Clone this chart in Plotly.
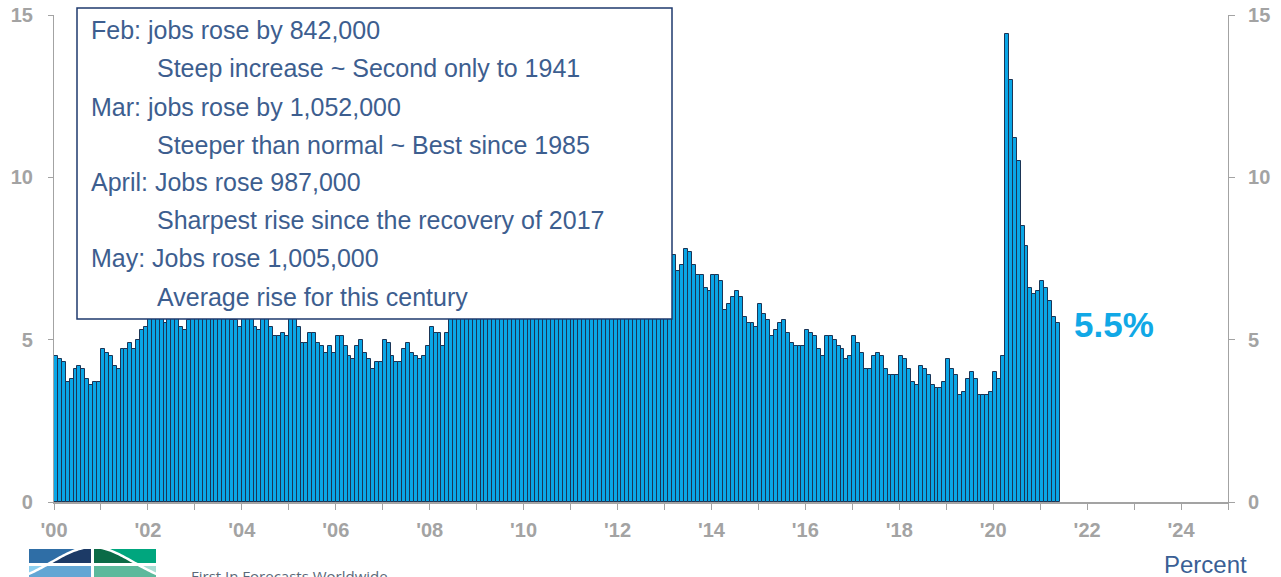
import numpy as np
import plotly.graph_objects as go

# Monthly rate (percent), Jan 2000 - May 2021
y2000 = [4.5, 4.4, 4.3, 3.7, 3.8, 4.1, 4.2, 4.1, 3.8, 3.6, 3.7, 3.7]
y2001 = [4.7, 4.6, 4.5, 4.2, 4.1, 4.7, 4.7, 4.9, 4.7, 5.0, 5.3, 5.4]
y2002 = [6.3, 6.1, 6.1, 5.7, 5.5, 6.0, 5.9, 5.7, 5.4, 5.3, 5.6, 5.7]
y2003 = [6.5, 6.4, 6.2, 5.8, 5.8, 6.5, 6.3, 6.0, 5.8, 5.6, 5.6, 5.4]
y2004 = [6.3, 6.0, 6.0, 5.4, 5.3, 5.8, 5.7, 5.4, 5.1, 5.1, 5.2, 5.1]
y2005 = [5.7, 5.8, 5.4, 4.9, 4.9, 5.2, 5.2, 4.9, 4.8, 4.6, 4.8, 4.6]
y2006 = [5.1, 5.1, 4.8, 4.5, 4.4, 4.8, 5.0, 4.6, 4.4, 4.1, 4.3, 4.3]
y2007 = [5.0, 4.9, 4.5, 4.3, 4.3, 4.7, 4.9, 4.6, 4.5, 4.4, 4.5, 4.8]
y2008 = [5.4, 5.2, 5.2, 4.8, 5.2, 5.7, 6.0, 6.1, 6.0, 6.1, 6.5, 7.1]
y2009 = [8.5, 8.9, 9.0, 8.6, 9.1, 9.7, 9.7, 9.6, 9.5, 9.5, 9.4, 9.7]
y2010 = [10.6, 10.4, 10.2, 9.5, 9.3, 9.6, 9.7, 9.5, 9.2, 9.0, 9.3, 9.1]
y2011 = [9.8, 9.5, 9.2, 8.7, 8.7, 9.3, 9.3, 9.1, 8.8, 8.5, 8.2, 8.3]
y2012 = [8.8, 8.7, 8.4, 7.7, 7.9, 8.4, 8.6, 8.2, 7.6, 7.5, 7.4, 7.6]
y2013 = [8.5, 8.1, 7.6, 7.1, 7.3, 7.8, 7.7, 7.3, 7.0, 7.0, 6.6, 6.5]
y2014 = [7.0, 7.0, 6.8, 5.9, 6.1, 6.3, 6.5, 6.3, 5.7, 5.5, 5.5, 5.4]
y2015 = [6.1, 5.8, 5.6, 5.1, 5.3, 5.5, 5.6, 5.2, 4.9, 4.8, 4.8, 4.8]
y2016 = [5.3, 5.2, 5.1, 4.7, 4.5, 5.1, 5.1, 5.0, 4.8, 4.7, 4.4, 4.5]
y2017 = [5.1, 4.9, 4.6, 4.1, 4.1, 4.5, 4.6, 4.5, 4.1, 3.9, 3.9, 3.9]
y2018 = [4.5, 4.4, 4.1, 3.7, 3.6, 4.2, 4.1, 3.9, 3.6, 3.5, 3.5, 3.7]
y2019 = [4.4, 4.1, 3.9, 3.3, 3.4, 3.8, 4.0, 3.8, 3.3, 3.3, 3.3, 3.4]
y2020 = [4.0, 3.8, 4.5, 14.4, 13.0, 11.2, 10.5, 8.5, 7.9, 6.6, 6.4, 6.5]
y2021 = [6.8, 6.6, 6.2, 5.7, 5.5]

start_year = 2000
tick_years = list(range(2000, 2026))
label_years = list(range(2000, 2025, 2))
y_ticks = [0, 5, 10, 15]

annotation_lines = [
    ("Feb: jobs rose by 842,000", 0),
    ("Steep increase ~ Second only to 1941", 1),
    ("Mar: jobs rose by 1,052,000", 0),
    ("Steeper than normal ~ Best since 1985", 1),
    ("April: Jobs rose 987,000", 0),
    ("Sharpest rise since the recovery of 2017", 1),
    ("May: Jobs rose 1,005,000", 0),
    ("Average rise for this century", 1),
]
latest_label = "5.5%"

values = (y2000 + y2001 + y2002 + y2003 + y2004 + y2005 + y2006 + y2007 + y2008
          + y2009 + y2010 + y2011 + y2012 + y2013 + y2014 + y2015 + y2016 + y2017
          + y2018 + y2019 + y2020 + y2021)
x = [start_year + (i + 0.5) / 12 for i in range(len(values))]

W, H = 1281, 577
L, R, T, B = 54, 53, 15, 75
PW, PH = W - L - R, H - T - B


def px(v):
    return (v - L) / PW


def py(v):
    return (H - B - v) / PH


FONT = "Liberation Sans, Arial, sans-serif"
GREY = "#a3a3a3"
TEXT_BLUE = "#3d5e8f"

fig = go.Figure()
fig.add_trace(go.Bar(
    x=x, y=values, width=1 / 12,
    marker=dict(color="#0aa6e6", line=dict(color="#1b3556", width=1)),
    hoverinfo="skip", showlegend=False,
))
fig.add_trace(go.Scatter(x=[2000], y=[0], yaxis="y2", mode="markers",
                         marker=dict(opacity=0), showlegend=False, hoverinfo="skip"))

ticktext = [("'%02d" % (yr % 100)) if yr in label_years else "" for yr in tick_years]
tfont = dict(family=FONT, size=20, color=GREY, weight="bold")

fig.update_layout(
    width=W, height=H,
    margin=dict(l=L, r=R, t=T, b=B, pad=0, autoexpand=False),
    paper_bgcolor="white", plot_bgcolor="white",
    bargap=0,
    xaxis=dict(range=[2000, 2025], tickvals=tick_years, ticktext=ticktext, automargin=False,
               showgrid=False, zeroline=False, showline=True, linecolor=GREY, linewidth=1.5,
               ticks="outside", ticklen=6, tickcolor=GREY, tickwidth=1.2,
               tickfont=tfont, ticklabelstandoff=3, fixedrange=True),
    yaxis=dict(range=[0, 15], tickvals=y_ticks, showgrid=False, zeroline=False, automargin=False,
               showline=True, linecolor=GREY, linewidth=1.2,
               ticks="outside", ticklen=5, tickcolor=GREY, tickwidth=1.2,
               tickfont=tfont, ticklabelstandoff=11),
    yaxis2=dict(range=[0, 15], tickvals=y_ticks, overlaying="y", side="right", automargin=False,
                showgrid=False, zeroline=False, showline=True, linecolor=GREY, linewidth=1.2,
                ticks="outside", ticklen=6, tickcolor=GREY, tickwidth=1.2,
                tickfont=tfont, ticklabelstandoff=9),
)

shapes = []
# annotation box
shapes.append(dict(type="rect", xref="paper", yref="paper",
                   x0=px(77), x1=px(672), y0=py(319), y1=py(8),
                   fillcolor="white", line=dict(color="#1f3a6e", width=1.5), layer="above"))

# logo blocks
def curve_y(xx):
    return 585 - 38 * np.exp(-((xx - 92.5) / 57.5) ** 2)

blocks = [
    (29, 91, 549, 563, "#2f6ea6", "#1c3a66"),
    (94, 156, 549, 563, "#00a67e", "#0b6b47"),
    (29, 91, 566, 580, "#8dd0f0", "#62a6d4"),
    (94, 156, 566, 580, "#a8ded4", "#5cb99c"),
]
for x0, x1, y0, y1, c_above, c_under in blocks:
    shapes.append(dict(type="rect", xref="paper", yref="paper",
                       x0=px(x0), x1=px(x1), y0=py(y1), y1=py(y0),
                       fillcolor=c_above, line=dict(width=0), layer="above"))
    xs = np.linspace(x0, x1, 40)
    ys = np.clip(curve_y(xs), y0, y1)
    pts = [(px(a), py(b)) for a, b in zip(xs, ys)]
    pts += [(px(x1), py(y1)), (px(x0), py(y1))]
    path = "M " + " L ".join("%.5f,%.5f" % p for p in pts) + " Z"
    shapes.append(dict(type="path", xref="paper", yref="paper", path=path,
                       fillcolor=c_under, line=dict(width=0), layer="above"))
xs = np.linspace(26, 160, 80)
path = "M " + " L ".join("%.5f,%.5f" % (px(a), py(b)) for a, b in zip(xs, curve_y(xs)))
shapes.append(dict(type="path", xref="paper", yref="paper", path=path,
                   line=dict(color="white", width=2.5), layer="above"))
fig.update_layout(shapes=shapes)

annotations = []
line_y = [30, 68.3, 106.6, 144.9, 182.2, 220.5, 258.3, 296.6]
for (txt, lvl), yy in zip(annotation_lines, line_y):
    annotations.append(dict(text=txt, xref="paper", yref="paper",
                            x=px(89 if lvl == 0 else 155), y=py(yy),
                            xanchor="left", yanchor="middle", showarrow=False,
                            font=dict(family=FONT, size=25, color=TEXT_BLUE)))
annotations.append(dict(text=latest_label, xref="paper", yref="paper",
                        x=px(1114), y=py(324), xanchor="center", yanchor="middle",
                        showarrow=False,
                        font=dict(family=FONT, size=35, color="#11a8e6", weight="bold")))
annotations.append(dict(text="Percent", xref="paper", yref="paper",
                        x=px(1249), y=py(564), xanchor="right", yanchor="middle",
                        showarrow=False, font=dict(family=FONT, size=24, color="#3a5f95")))
annotations.append(dict(text="First In Forecasts Worldwide", xref="paper", yref="paper",
                        x=px(189), y=py(576), xanchor="left", yanchor="middle",
                        showarrow=False, font=dict(family="Open Sans, sans-serif", size=15,
                                                   color="#5a6878")))
fig.update_layout(annotations=annotations)

fig.write_html("out.html")
